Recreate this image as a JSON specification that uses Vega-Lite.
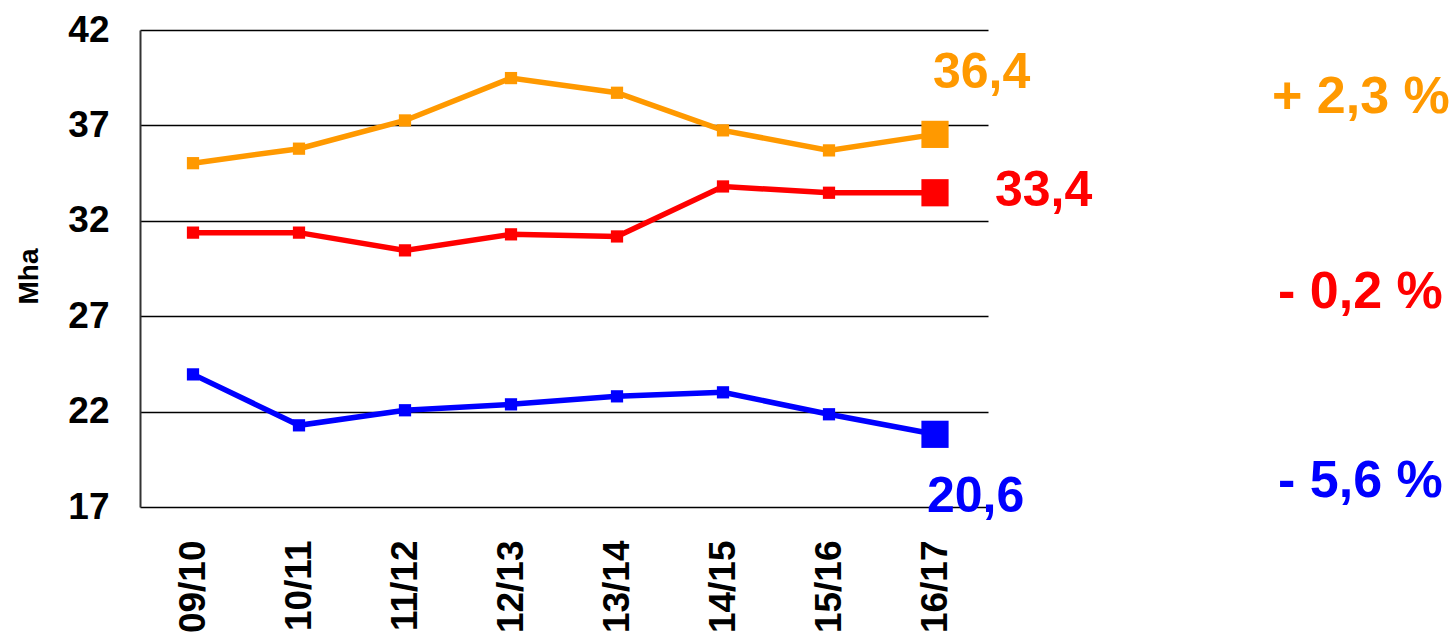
{
  "$schema": "https://vega.github.io/schema/vega-lite/v6.json",
  "autosize": {"type": "none"},
  "padding": {"left": 140, "top": 30, "right": 468, "bottom": 129},
  "width": 848,
  "height": 477,
  "background": "white",
  "config": {
    "view": {"stroke": null},
    "font": "Liberation Sans"
  },
  "datasets": {
    "main": [
      {"period": "09/10", "series": "orange", "value": 35.02},
      {"period": "10/11", "series": "orange", "value": 35.78},
      {"period": "11/12", "series": "orange", "value": 37.26},
      {"period": "12/13", "series": "orange", "value": 39.48},
      {"period": "13/14", "series": "orange", "value": 38.71},
      {"period": "14/15", "series": "orange", "value": 36.74},
      {"period": "15/16", "series": "orange", "value": 35.69},
      {"period": "16/17", "series": "orange", "value": 36.53},
      {"period": "09/10", "series": "red", "value": 31.38},
      {"period": "10/11", "series": "red", "value": 31.38},
      {"period": "11/12", "series": "red", "value": 30.45},
      {"period": "12/13", "series": "red", "value": 31.29},
      {"period": "13/14", "series": "red", "value": 31.18},
      {"period": "14/15", "series": "red", "value": 33.8},
      {"period": "15/16", "series": "red", "value": 33.47},
      {"period": "16/17", "series": "red", "value": 33.47},
      {"period": "09/10", "series": "blue", "value": 23.95},
      {"period": "10/11", "series": "blue", "value": 21.28},
      {"period": "11/12", "series": "blue", "value": 22.07},
      {"period": "12/13", "series": "blue", "value": 22.38},
      {"period": "13/14", "series": "blue", "value": 22.8},
      {"period": "14/15", "series": "blue", "value": 23.01},
      {"period": "15/16", "series": "blue", "value": 21.86},
      {"period": "16/17", "series": "blue", "value": 20.81}
    ],
    "notes": [
      {"period": "16/17", "series": "orange", "value": 36.53, "label": "36,4", "pct": "+ 2,3 %"},
      {"period": "16/17", "series": "red", "value": 33.47, "label": "33,4", "pct": "- 0,2 %"},
      {"period": "16/17", "series": "blue", "value": 20.81, "label": "20,6", "pct": "- 5,6 %"}
    ]
  },
  "data": {"name": "main"},
  "encoding": {
    "x": {
      "field": "period", "type": "ordinal",
      "scale": {"type": "point", "padding": 0.5},
      "axis": {
        "title": null, "domain": false, "ticks": false, "grid": false,
        "labelAngle": 270, "labelAlign": "right", "labelBaseline": "middle",
        "labelFontSize": 37, "labelFontWeight": "bold", "labelColor": "black",
        "labelPadding": 33
      }
    },
    "y": {
      "field": "value", "type": "quantitative",
      "scale": {"domain": [17, 42], "nice": false, "zero": false},
      "axis": {
        "title": "Mha", "titleFontSize": 28, "titleFontWeight": "bold", "titleColor": "black",
        "titlePadding": 24, "titleY": 246,
        "values": [17, 22, 27, 32, 37, 42],
        "ticks": false, "labelPadding": 31,
        "labelFontSize": 37, "labelFontWeight": "bold", "labelColor": "black",
        "grid": true, "gridColor": "black", "gridWidth": 1.5, "gridOpacity": 1,
        "domain": true, "domainColor": "#333", "domainWidth": 2
      }
    },
    "color": {
      "field": "series", "type": "nominal", "legend": null,
      "scale": {"domain": ["orange", "red", "blue"], "range": ["#FF9900", "#FF0000", "#0000FF"]}
    }
  },
  "layer": [
    {"mark": {"type": "line", "strokeWidth": 5.5}},
    {"mark": {"type": "point", "shape": "square", "filled": true, "opacity": 1, "size": 150}},
    {
      "transform": [{"filter": "datum.period === '16/17'"}],
      "mark": {"type": "point", "shape": "square", "filled": true, "opacity": 1, "size": 740}
    },
    {
      "data": {"name": "notes"},
      "transform": [{"filter": "datum.series === 'orange'"}],
      "mark": {"type": "text", "align": "left", "baseline": "alphabetic", "fontSize": 50, "fontWeight": "bold", "dx": -2, "dy": -46},
      "encoding": {"text": {"field": "label"}}
    },
    {
      "data": {"name": "notes"},
      "transform": [{"filter": "datum.series === 'red'"}],
      "mark": {"type": "text", "align": "left", "baseline": "alphabetic", "fontSize": 50, "fontWeight": "bold", "dx": 60, "dy": 13},
      "encoding": {"text": {"field": "label"}}
    },
    {
      "data": {"name": "notes"},
      "transform": [{"filter": "datum.series === 'blue'"}],
      "mark": {"type": "text", "align": "left", "baseline": "alphabetic", "fontSize": 50, "fontWeight": "bold", "dx": -8, "dy": 78},
      "encoding": {"text": {"field": "label"}}
    },
    {
      "data": {"name": "notes"},
      "transform": [{"filter": "datum.series === 'orange'"}],
      "mark": {"type": "text", "align": "left", "baseline": "alphabetic", "fontSize": 52, "fontWeight": "bold", "dx": 337, "dy": -21},
      "encoding": {"text": {"field": "pct"}}
    },
    {
      "data": {"name": "notes"},
      "transform": [{"filter": "datum.series === 'red'"}],
      "mark": {"type": "text", "align": "left", "baseline": "alphabetic", "fontSize": 52, "fontWeight": "bold", "dx": 343, "dy": 115},
      "encoding": {"text": {"field": "pct"}}
    },
    {
      "data": {"name": "notes"},
      "transform": [{"filter": "datum.series === 'blue'"}],
      "mark": {"type": "text", "align": "left", "baseline": "alphabetic", "fontSize": 52, "fontWeight": "bold", "dx": 343, "dy": 63},
      "encoding": {"text": {"field": "pct"}}
    }
  ]
}
